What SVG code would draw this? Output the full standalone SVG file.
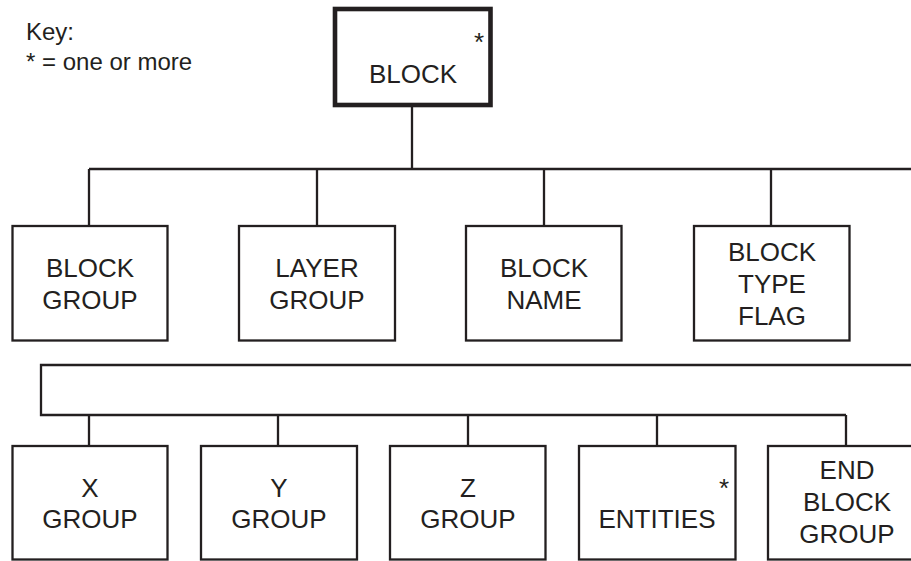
<svg xmlns="http://www.w3.org/2000/svg" width="911" height="561" viewBox="0 0 911 561">
<style>
.box{fill:#fff;stroke:#231f20;stroke-width:2.3}
.top{fill:#fff;stroke:#231f20;stroke-width:4.6}
.ln{fill:none;stroke:#231f20;stroke-width:2.3}
text{font-family:"Liberation Sans",Arial,sans-serif;fill:#231f20}
.lbl{font-size:26px;text-anchor:middle}
.key{font-size:24px}
</style>
<rect width="911" height="561" fill="#fff"/>
<g id="key">
<text class="key" x="26" y="40">Key:</text>
<text class="key" x="26" y="70">* = one or more</text>
</g>
<g id="connectors">
<path class="ln" d="M412 107V169M89 169H912M89 169V226M317 169V226M544 169V226M771 169V226"/>
<path class="ln" d="M912 365H41V415H846M89 415V446M278 415V446M468 415V446M657 415V446M846 415V446"/>
</g>
<g id="n-block">
<rect class="top" x="335" y="9" width="155.5" height="96"/>
<text class="lbl" x="479" y="51">*</text>
<text class="lbl" x="413" y="83">BLOCK</text>
</g>
<g id="n-block-group">
<rect class="box" x="12.5" y="226" width="155" height="114.5"/>
<text class="lbl" x="90" y="277">BLOCK</text>
<text class="lbl" x="90" y="309">GROUP</text>
</g>
<g id="n-layer-group">
<rect class="box" x="239" y="226" width="156" height="114.5"/>
<text class="lbl" x="317" y="277">LAYER</text>
<text class="lbl" x="317" y="309">GROUP</text>
</g>
<g id="n-block-name">
<rect class="box" x="466" y="226" width="155.5" height="114.5"/>
<text class="lbl" x="544" y="277">BLOCK</text>
<text class="lbl" x="544" y="309">NAME</text>
</g>
<g id="n-block-type-flag">
<rect class="box" x="694" y="226" width="155.5" height="114.5"/>
<text class="lbl" x="772" y="261">BLOCK</text>
<text class="lbl" x="772" y="293">TYPE</text>
<text class="lbl" x="772" y="325">FLAG</text>
</g>
<g id="n-x-group">
<rect class="box" x="12.5" y="446" width="155" height="113.5"/>
<text class="lbl" x="90" y="497">X</text>
<text class="lbl" x="90" y="528">GROUP</text>
</g>
<g id="n-y-group">
<rect class="box" x="201" y="446" width="156" height="113.5"/>
<text class="lbl" x="279" y="497">Y</text>
<text class="lbl" x="279" y="528">GROUP</text>
</g>
<g id="n-z-group">
<rect class="box" x="390" y="446" width="155.5" height="113.5"/>
<text class="lbl" x="468" y="497">Z</text>
<text class="lbl" x="468" y="528">GROUP</text>
</g>
<g id="n-entities">
<rect class="box" x="579" y="446" width="156.5" height="113.5"/>
<text class="lbl" x="724" y="497">*</text>
<text class="lbl" x="657" y="528">ENTITIES</text>
</g>
<g id="n-end-block-group">
<rect class="box" x="768" y="446" width="156" height="113.5"/>
<text class="lbl" x="847" y="479">END</text>
<text class="lbl" x="847" y="511">BLOCK</text>
<text class="lbl" x="847" y="543">GROUP</text>
</g>
</svg>
